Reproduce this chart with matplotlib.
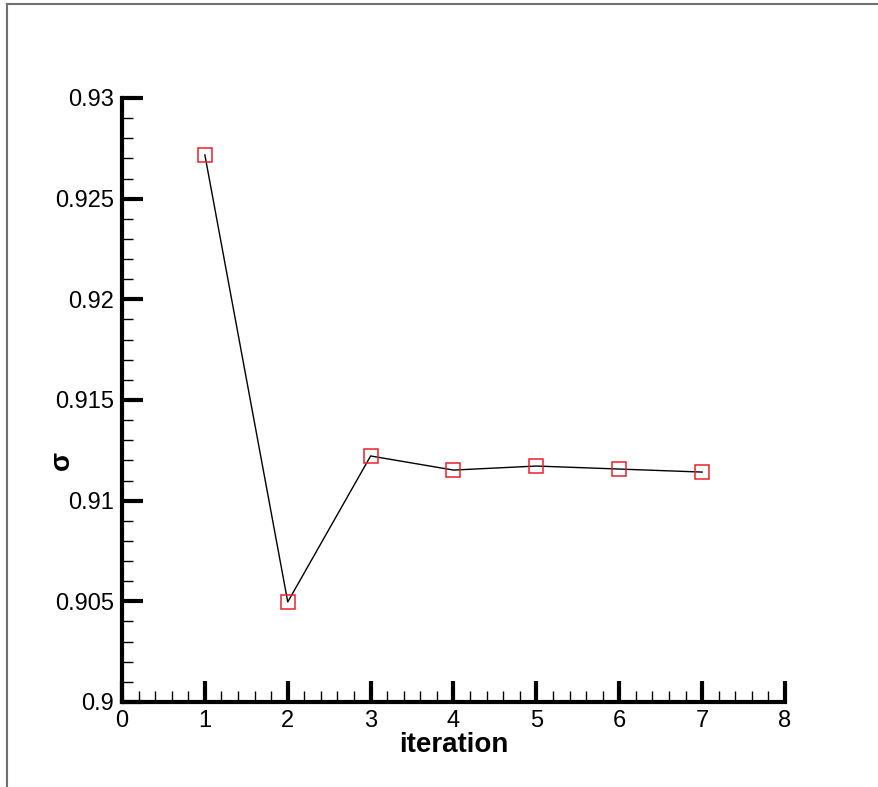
import matplotlib
matplotlib.use("Agg")
import matplotlib.pyplot as plt
from matplotlib.lines import Line2D
from matplotlib.ticker import MultipleLocator
import numpy as np

iteration = [1, 2, 3, 4, 5, 6, 7]
sigma = [0.92717, 0.90497, 0.91222, 0.91152, 0.91172, 0.91157, 0.91142]

plt.rcParams["font.family"] = ["Liberation Sans", "DejaVu Sans"]

fig = plt.figure(figsize=(8.79, 7.87), dpi=100)
fig.patch.set_facecolor("white")
ax = fig.add_axes([122 / 879, 1 - 702 / 787, 663 / 879, 604 / 787])

ax.plot(iteration, sigma, color="black", linewidth=1.0, zorder=2)
ax.plot(iteration, sigma, linestyle="none", marker="s", markersize=10.5,
        markerfacecolor="none", markeredgecolor="#e8202a", markeredgewidth=1.1,
        zorder=3)

ax.set_xlim(0, 8)
ax.set_ylim(0.9, 0.93)

ax.xaxis.set_major_locator(MultipleLocator(1))
ax.xaxis.set_minor_locator(MultipleLocator(0.2))
ax.yaxis.set_major_locator(MultipleLocator(0.005))
ax.yaxis.set_minor_locator(MultipleLocator(0.001))


def fmt(v, pos):
    return ("%.3f" % v).rstrip("0").rstrip(".")


ax.yaxis.set_major_formatter(plt.FuncFormatter(fmt))

for side in ["top", "right"]:
    ax.spines[side].set_visible(False)
for side in ["left", "bottom"]:
    ax.spines[side].set_linewidth(3)

ax.tick_params(which="major", direction="in", length=15, width=3,
               labelsize=17, pad=6)
ax.tick_params(which="minor", direction="in", length=8, width=1)

ax.set_xlabel("iteration", fontsize=20, fontweight="bold", labelpad=0)
ax.set_ylabel("σ", fontsize=20, fontweight="bold", labelpad=0)
ax.yaxis.set_label_coords(-47 / 663, 0.4)

fig.add_artist(Line2D([7.5 / 879, 7.5 / 879], [0, 1 - 4 / 787],
                      color="#707070", linewidth=1.5, transform=fig.transFigure))
fig.add_artist(Line2D([7.5 / 879, 1], [1 - 4 / 787, 1 - 4 / 787],
                      color="#707070", linewidth=1.5, transform=fig.transFigure))

fig.savefig("out.png", dpi=100)
